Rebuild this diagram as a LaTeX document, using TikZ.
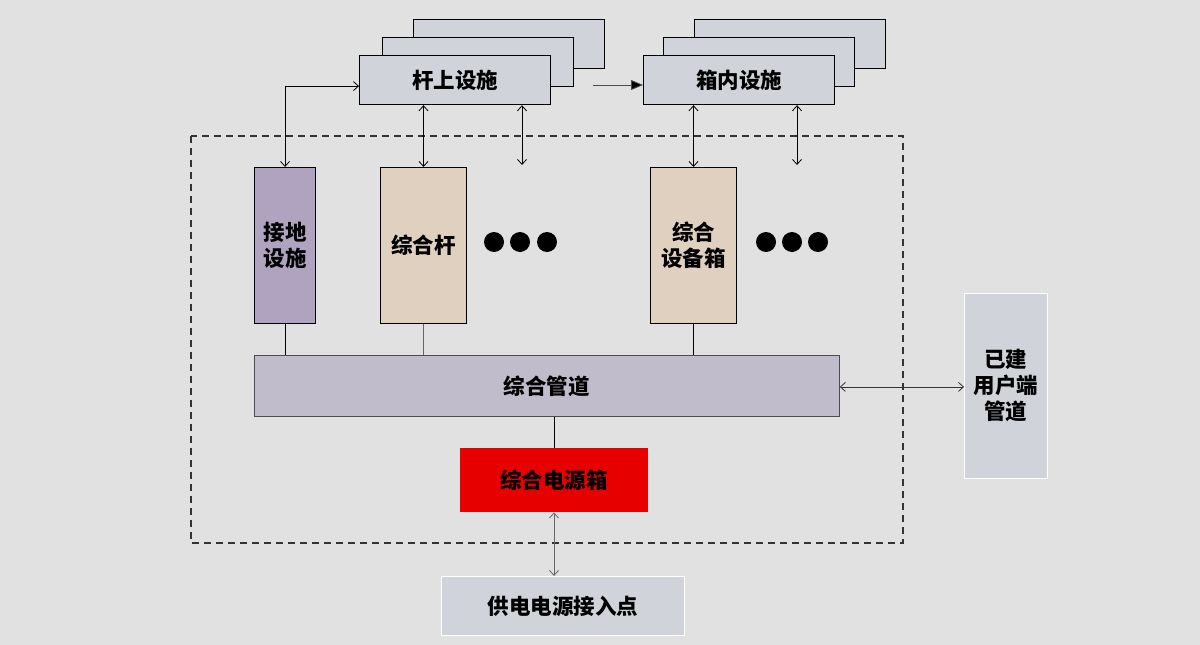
\documentclass[tikz,border=0pt]{standalone}
\usepackage{fontspec}
\newfontfamily\cjk{Noto Sans CJK SC}
\usetikzlibrary{arrows.meta,calc}
\definecolor{bg}{HTML}{E1E1E1}
\definecolor{bluegray}{HTML}{D0D4DA}
\definecolor{purp}{HTML}{B0A3BF}
\definecolor{beige}{HTML}{E0D0C0}
\definecolor{pipe}{HTML}{C1BCCB}
\definecolor{redbox}{HTML}{E60000}
\begin{document}
\begin{tikzpicture}[x=1pt,y=1pt,
  lbl/.style={font=\cjk\bfseries\fontsize{21.5}{26}\selectfont, text=black, align=center, inner sep=0pt},
  stackbox/.style={lbl, draw=black, line width=1.2pt, fill=bluegray, anchor=north west, minimum width=191pt, minimum height=49pt},
  tallbox/.style={lbl, draw=black, line width=1pt, anchor=north west, minimum height=156pt},
  dbl/.style={line width=0.8pt, {Straight Barb[length=5pt,width=9pt]}-{Straight Barb[length=5pt,width=9pt]}},
  plain/.style={line width=0.8pt}
]
\useasboundingbox (0,0) rectangle (1200,-645);
\fill[bg] (0,0) rectangle (1200,-645);

% dashed frame
\draw[line width=1.6pt, draw=black!80, dash pattern=on 7pt off 5pt] (191,-136) rectangle (903,-543);

% stacked boxes (poles)
\node[stackbox] (gs3) at (413,-19) {};
\node[stackbox] (gs2) at (382,-37) {};
\node[stackbox] (gs) at (359,-55) {杆上设施};
% stacked boxes (cabinets)
\node[stackbox] (xn3) at (694,-19) {};
\node[stackbox] (xn2) at (663,-37) {};
\node[stackbox] (xn) at (643,-55) {箱内设施};

% tall boxes
\node[tallbox, fill=purp, minimum width=61pt] (jd) at (254,-167) {接地\\设施};
\node[tallbox, fill=beige, minimum width=86pt] (zhg) at (380,-167) {综合杆};
\node[tallbox, fill=beige, minimum width=86pt] (sbx) at (650,-167) {综合\\设备箱};

% dots
\foreach \x in {494,520,547,766,792,818} \fill[black] (\x,-242) circle (10);

% pipe
\node[lbl, draw=black!70, line width=0.8pt, fill=pipe, anchor=north west, minimum width=585pt, minimum height=61pt] (gd) at (254,-355) {综合管道};

% existing user pipe
\node[lbl, draw=white, line width=0.8pt, fill=bluegray, anchor=north west, minimum width=83pt, minimum height=185pt] (yj) at (964,-293) {已建\\用户端\\管道};

% power box
\node[lbl, fill=redbox, anchor=north west, minimum width=188pt, minimum height=64pt] (dy) at (460,-448) {综合电源箱};

% supply access point
\node[lbl, draw=white, line width=0.8pt, fill=bluegray, anchor=north west, minimum width=243pt, minimum height=59pt] (gd2) at (441,-576) {供电电源接入点};

% coordinates for free ends
\coordinate (c1) at (522,-165);
\coordinate (c2) at (797,-165);
\coordinate (c3) at (593,-85);

% connectors
\draw[dbl] ([yshift=-6pt]gs.west) -| (jd.north);
\draw[dbl] (zhg.north |- gs.south) -- (zhg.north);
\draw[dbl] (c1 |- gs.south) -- (c1);
\draw[dbl] (sbx.north |- xn.south) -- (sbx.north);
\draw[dbl] (c2 |- xn.south) -- (c2);
\draw[line width=0.8pt, draw=black!70, -{Triangle[length=12pt,width=10pt,fill=black]}] (c3) -- (c3 -| xn.west);

\draw[plain] (jd.south) -- (jd.south |- gd.north);
\draw[plain, draw=black!60] (zhg.south) -- (zhg.south |- gd.north);
\draw[plain] (sbx.south) -- (sbx.south |- gd.north);
\draw[plain] (gd.south -| 554,0) -- (dy.north -| 554,0);
\draw[dbl, draw=black!80] ([yshift=-1pt]gd.east) -- ([yshift=-1pt]yj.west);
\draw[dbl, draw=black!60] (dy.south -| 554,0) -- (gd2.north -| 554,0);
\end{tikzpicture}
\end{document}
